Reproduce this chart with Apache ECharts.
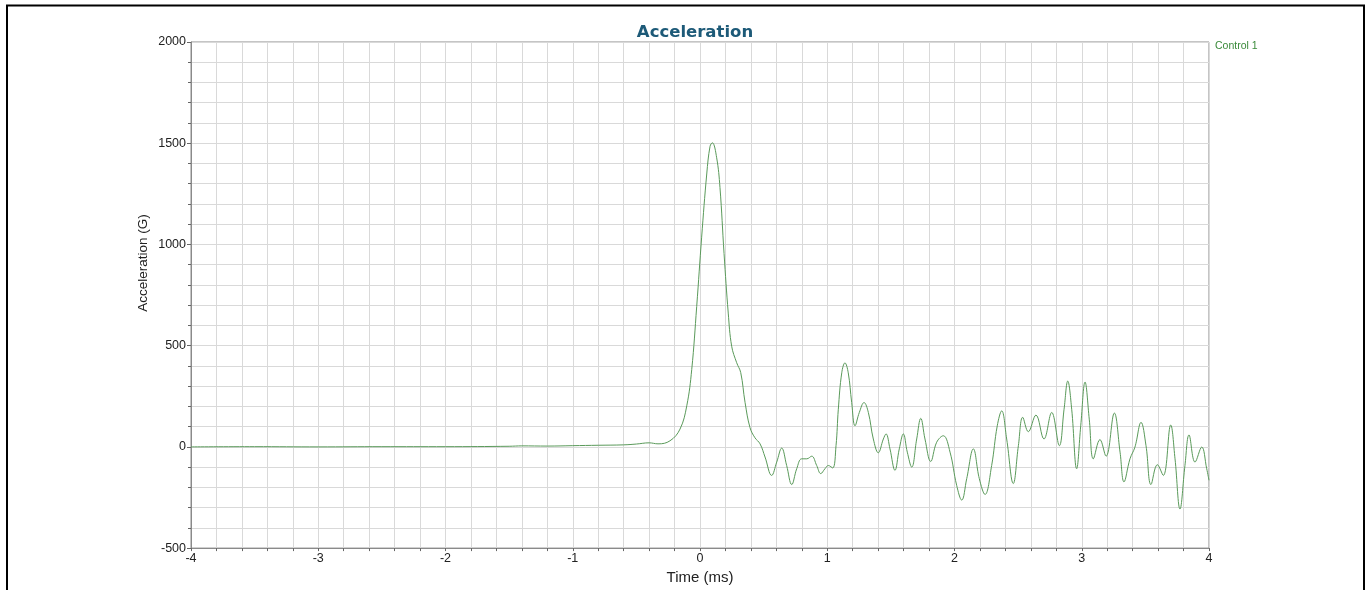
<!DOCTYPE html>
<html>
<head>
<meta charset="utf-8">
<script src="https://cdn.jsdelivr.net/npm/echarts@6/dist/echarts.min.js"></script>
<style>
html,body{margin:0;padding:0;background:#fff;}
#c{width:1370px;height:590px;}
</style>
</head>
<body>
<div id="c"></div>
<script>
// Time (ms)
const times = [-4, -3.5, -3, -2.5, -2, -1.5, -1.4, -1.2, -1, -0.8, -0.6, -0.5, -0.4, -0.33, -0.236, -0.157, -0.104, -0.065, -0.026, 0.013, 0.053, 0.079, 0.097, 0.131, 0.157, 0.189, 0.222, 0.249, 0.288, 0.320, 0.354, 0.393, 0.432, 0.472, 0.511, 0.563, 0.603, 0.642, 0.681, 0.721, 0.760, 0.799, 0.839, 0.878, 0.917, 0.949, 0.982, 1.008, 1.043, 1.069, 1.087, 1.114, 1.139, 1.165, 1.192, 1.218, 1.252, 1.289, 1.323, 1.362, 1.401, 1.441, 1.462, 1.493, 1.532, 1.566, 1.598, 1.629, 1.664, 1.703, 1.735, 1.768, 1.813, 1.860, 1.912, 1.965, 2.017, 2.057, 2.096, 2.148, 2.195, 2.240, 2.292, 2.336, 2.371, 2.410, 2.462, 2.502, 2.536, 2.580, 2.640, 2.703, 2.764, 2.824, 2.861, 2.890, 2.921, 2.960, 2.992, 3.026, 3.059, 3.091, 3.143, 3.191, 3.256, 3.301, 3.332, 3.379, 3.418, 3.466, 3.505, 3.544, 3.594, 3.641, 3.699, 3.733, 3.772, 3.811, 3.843, 3.890, 3.943, 3.982, 4.0];
// Acceleration (G)
const accel = [0, 1, 0, 1, 1, 3, 5, 4, 6, 8, 10, 14, 20, 15, 30, 88, 203, 382, 693, 1036, 1348, 1485, 1502, 1428, 1281, 955, 661, 497, 416, 367, 220, 95, 45, 15, -50, -141, -75, -6, -92, -186, -108, -59, -59, -46, -92, -132, -108, -92, -104, 6, 186, 366, 415, 366, 219, 104, 170, 219, 170, 39, -29, 39, 64, -10, -116, -10, 64, -26, -100, 39, 141, 39, -72, 23, 55, -26, -190, -263, -157, -10, -157, -235, -92, 104, 178, 39, -181, 6, 146, 75, 157, 39, 170, 6, 186, 325, 186, -108, 104, 320, 137, -59, 36, -46, 167, -26, -173, -59, -1, 121, 6, -186, -88, -141, 108, -59, -307, -92, 59, -75, -1, -108, -165];
const xTicks = { min: -4, max: 4, interval: 1 };
const yTicks = { min: -500, max: 2000, interval: 500 };
const seriesName = 'Control 1';

const data = times.map((t, i) => [t, accel[i]]);
const gridColor = '#d9d9d9';
const axisColor = '#8a8a8a';
const plain = v => String(v);

const chart = echarts.init(document.getElementById('c'));
chart.setOption({
  backgroundColor: '#ffffff',
  animation: false,
  title: {
    text: 'Acceleration',
    left: 690, top: 28, textAlign: 'center', textVerticalAlign: 'middle',
    textStyle: { fontFamily: 'DejaVu Sans', fontWeight: 'bold', fontSize: 16.5, color: '#1d5a78' }
  },
  legend: { show: false },
  grid: { left: 191, right: 161, top: 42, bottom: 38, show: true, borderColor: axisColor, borderWidth: 1 },
  xAxis: {
    type: 'value', min: xTicks.min, max: xTicks.max, interval: xTicks.interval,
    name: 'Time (ms)', nameLocation: 'middle', nameGap: 21,
    nameTextStyle: { fontFamily: 'Liberation Sans', fontSize: 15, color: '#222' },
    axisLine: { onZero: false, lineStyle: { color: axisColor, width: 1 } },
    axisTick: { show: true, length: 3, lineStyle: { color: '#666' } },
    minorTick: { show: true, splitNumber: 5, length: 3, lineStyle: { color: '#666' } },
    splitLine: { show: true, lineStyle: { color: gridColor, width: 1 } },
    minorSplitLine: { show: true, lineStyle: { color: gridColor, width: 1 } },
    axisLabel: { fontFamily: 'Liberation Sans', fontSize: 12.5, color: '#222', margin: 4, formatter: plain }
  },
  yAxis: {
    type: 'value', min: yTicks.min, max: yTicks.max, interval: yTicks.interval,
    axisLine: { show: true, onZero: false, lineStyle: { color: axisColor, width: 1 } },
    axisTick: { show: true, length: 4, lineStyle: { color: '#666' } },
    minorTick: { show: true, splitNumber: 5, length: 3, lineStyle: { color: '#666' } },
    splitLine: { show: true, lineStyle: { color: gridColor, width: 1 } },
    minorSplitLine: { show: true, lineStyle: { color: gridColor, width: 1 } },
    axisLabel: { fontFamily: 'Liberation Sans', fontSize: 12.5, color: '#222', margin: 5, formatter: plain }
  },
  series: [{
    name: seriesName, type: 'line', data: data, showSymbol: false, smooth: 0.4,
    lineStyle: { color: '#5a9a5a', width: 1 }, itemStyle: { color: '#5a9a5a' }
  }],
  graphic: [
    { type: 'rect', shape: { x: 7, y: 5.5, width: 1357, height: 700 }, style: { fill: 'none', stroke: '#000', lineWidth: 2 }, silent: true },
    { type: 'text', x: 143.5, y: 263, rotation: Math.PI / 2,
      style: { text: 'Acceleration (G)', fontFamily: 'Liberation Sans', fontSize: 13.5, fill: '#222', align: 'center', verticalAlign: 'middle' } },
    { type: 'text', x: 1215, y: 46.5,
      style: { text: seriesName, fontFamily: 'Liberation Sans', fontSize: 10.5, fill: '#3a8a3a', align: 'left', verticalAlign: 'middle' } }
  ]
});
</script>
</body>
</html>
